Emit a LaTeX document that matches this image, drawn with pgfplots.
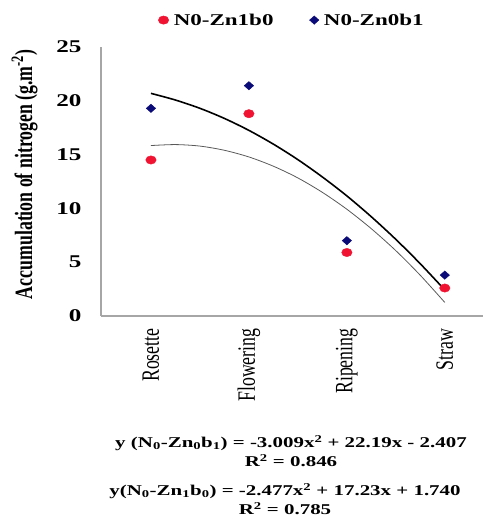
\documentclass[border=0pt]{standalone}
\usepackage{pgfplots}
\pgfplotsset{compat=1.18}
\usepackage{fontspec}
\setmainfont{Liberation Serif}
% the reference is stretched sideways: wide glyphs for level text, narrow for turned text
\newfontfamily\hfont[FakeStretch=1.4]{Liberation Serif}
\newfontfamily\vfont[FakeStretch=0.714]{Liberation Serif}
\definecolor{ptred}{RGB}{240,20,50}
\definecolor{ptblue}{RGB}{10,10,120}

\begin{document}
\begin{tikzpicture}[x=1bp,y=1bp]
\useasboundingbox (0,0) rectangle (483,521);
\begin{axis}[
    at={(101bp,205bp)},
    scale only axis,
    width=382bp, height=269bp,
    xmin=0.49, xmax=4.39,
    ymin=0, ymax=25,
    ytick={0,5,...,25},
    xtick={1,2,3,4},
    xticklabels={Rosette,Flowering,Ripening,Straw},
    x tick label style={yshift=-9bp, rotate=90, anchor=east, font=\vfont\fontsize{25}{25}\selectfont},
    y tick label style={xshift=-16bp, font=\hfont\bfseries\fontsize{18}{18}\selectfont},
    /pgf/number format/assume math mode=true,
    tick style={draw=none},
    axis x line*=bottom, axis y line*=left,
    axis line style={draw=black!35, line width=1.2pt, -},
    ylabel={Accumulation of nitrogen (g.m\textsuperscript{-2})},
    ylabel style={at={(axis description cs:-0.2,0.527)}, anchor=center, font=\vfont\bfseries\fontsize{25}{25}\selectfont},
    clip=false,
    legend style={draw=none, fill=none, at={(0.5,1.1)}, anchor=center,
      font=\hfont\bfseries\fontsize{16.5}{16.5}\selectfont, legend columns=2,
      /tikz/every odd column/.append style={column sep=3bp},
      /tikz/every even column/.append style={column sep=34bp}},
    legend cell align=left,
]
% trendline N0-Zn1b0 (thin)
\addplot[black!65, line width=0.8pt, smooth, forget plot] coordinates {
(1,15.84) (1.25,15.93) (1.5,15.79) (1.75,15.40) (2,14.78) (2.25,13.92)
(2.5,12.83) (2.75,11.49) (3,9.92) (3.25,8.11) (3.5,6.07) (3.75,3.78) (4,1.26)
};
% trendline N0-Zn0b1 (thick)
\addplot[black, line width=1.6pt, smooth, forget plot] coordinates {
(1,20.69) (1.25,20.07) (1.5,19.30) (1.75,18.36) (2,17.25) (2.25,15.97)
(2.5,14.53) (2.75,12.92) (3,11.16) (3.25,9.22) (3.5,7.12) (3.75,4.85) (4,2.42)
};
% N0-Zn1b0
\addplot[only marks, mark=*, mark size=4.2pt, mark options={xscale=1.25, draw=ptred, fill=ptred}] coordinates {
(1,14.5) (2,18.8) (3,5.9) (4,2.6)
};
\addlegendentry{N0-Zn1b0}
% N0-Zn0b1
\addplot[only marks, mark=diamond*, mark size=4.2pt, mark options={xscale=1.5, draw=ptblue, fill=ptblue}] coordinates {
(1,19.3) (2,21.4) (3,7.0) (4,3.8)
};
\addlegendentry{N0-Zn0b1}
\end{axis}
\begin{scope}[font=\hfont\bfseries\fontsize{15}{15}\selectfont]
\node at (291,78) {y (N\textsubscript{0}-Zn\textsubscript{0}b\textsubscript{1}) = -3.009x\textsuperscript{2} + 22.19x - 2.407};
\node at (291,60) {R\textsuperscript{2} = 0.846};
\node at (285,30) {y(N\textsubscript{0}-Zn\textsubscript{1}b\textsubscript{0}) = -2.477x\textsuperscript{2} + 17.23x + 1.740};
\node at (285,12) {R\textsuperscript{2} = 0.785};
\end{scope}
\end{tikzpicture}
\end{document}
